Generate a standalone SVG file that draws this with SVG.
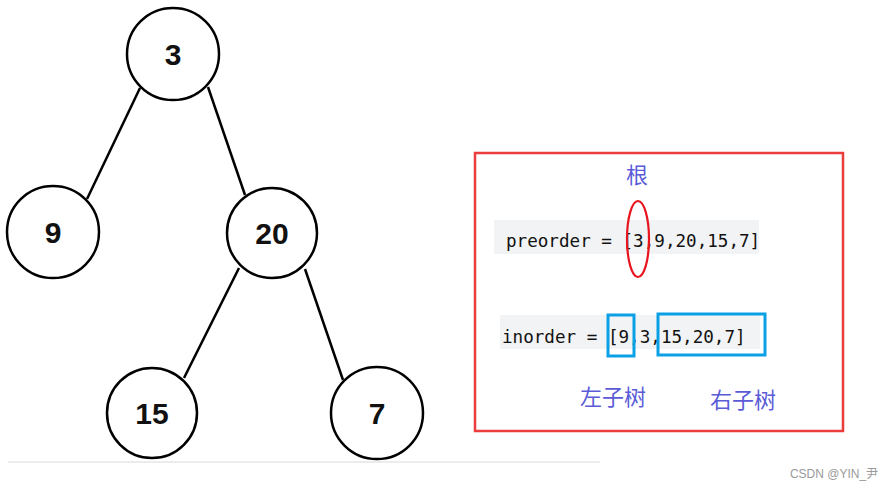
<svg xmlns="http://www.w3.org/2000/svg" width="895" height="491" viewBox="0 0 895 491">
<style>
.node circle{fill:#fff;stroke:#000;stroke-width:2.5}
.node text{font-family:"Liberation Sans",Arial,sans-serif;font-weight:bold;font-size:30px;text-anchor:middle;fill:#111}
.edge{stroke:#000;stroke-width:2.5;fill:none}
.code{font-family:"DejaVu Sans Mono","Liberation Mono",monospace;font-size:17.6px;fill:#111}
.cn{font-family:"Noto Sans CJK SC",sans-serif;font-size:22px;fill:#5b5bd8}
.bg{fill:#f2f3f4}
.blue{fill:none;stroke:#0aa0e6;stroke-width:3}
</style>
<rect width="895" height="491" fill="#fff"/>
<g id="connectors">
<line class="edge" x1="140" y1="88" x2="87" y2="199"/>
<line class="edge" x1="208" y1="87" x2="245" y2="195"/>
<line class="edge" x1="239" y1="268" x2="184" y2="378"/>
<line class="edge" x1="305" y1="269" x2="343" y2="380"/>
</g>
<g id="n3" class="node"><circle cx="173" cy="54" r="46"/><text x="173" y="65">3</text></g>
<g id="n9" class="node"><circle cx="53" cy="232" r="46"/><text x="53" y="243">9</text></g>
<g id="n20" class="node"><circle cx="272" cy="233" r="45"/><text x="272" y="244">20</text></g>
<g id="n15" class="node"><circle cx="152" cy="413" r="45"/><text x="152" y="424">15</text></g>
<g id="n7" class="node"><circle cx="377" cy="413" r="46"/><text x="377" y="424">7</text></g>
<line x1="8" y1="462" x2="600" y2="462" stroke="#e6e6e6" stroke-width="1.5"/>
<g id="panel">
<rect x="475" y="153" width="368" height="278" fill="none" stroke="#ec3c3c" stroke-width="2.5"/>
<text class="cn" x="637" y="183" text-anchor="middle">根</text>
<rect class="bg" x="494" y="220" width="265" height="34"/>
<text class="code" x="506" y="247">preorder = [3,9,20,15,7]</text>
<ellipse cx="638" cy="239" rx="11" ry="38" fill="none" stroke="#e8141e" stroke-width="2.2"/>
<rect class="bg" x="500" y="315" width="260" height="34"/>
<text class="code" x="502" y="343">inorder = [9,3,15,20,7]</text>
<rect class="blue" x="608" y="315" width="26" height="41"/>
<rect class="blue" x="658" y="314" width="107" height="41"/>
<text class="cn" x="613" y="405" text-anchor="middle">左子树</text>
<text class="cn" x="743" y="408" text-anchor="middle">右子树</text>
</g>
<text x="834" y="478" text-anchor="middle" font-family="'Liberation Sans','Noto Sans CJK SC',sans-serif" font-size="12" fill="#9a9a9a">CSDN @YIN_尹</text>
</svg>
